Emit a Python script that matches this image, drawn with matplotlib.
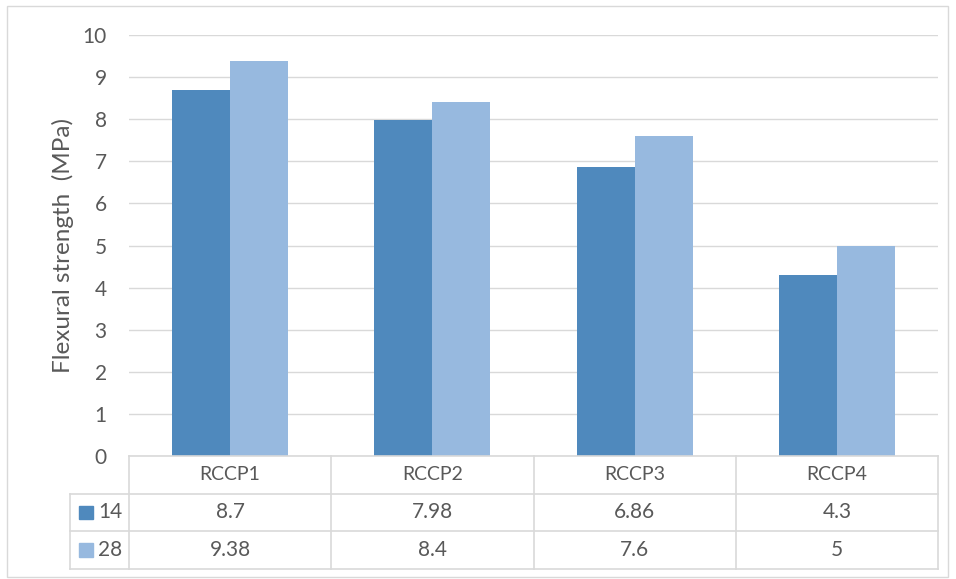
import matplotlib.pyplot as plt
import numpy as np
from matplotlib.patches import Rectangle

# data
categories = ['RCCP1', 'RCCP2', 'RCCP3', 'RCCP4']
series_names = ['14', '28']
vals_14 = [8.7, 7.98, 6.86, 4.3]
vals_28 = [9.38, 8.4, 7.6, 5]
yticks = [0, 1, 2, 3, 4, 5, 6, 7, 8, 9, 10]

colors = ['#4f89bd', '#97b9df']
txt = '#595959'
grid = '#d9d9d9'

plt.rcParams['font.family'] = ['Lato', 'DejaVu Sans']

W, H = 956, 579
fig = plt.figure(figsize=(W / 100, H / 100), dpi=100)

def px(x0, y0, x1, y1):
    return [x0 / W, 1 - y1 / H, (x1 - x0) / W, (y1 - y0) / H]

# outer frame
fig.patches.append(Rectangle((7 / W, 1 - 577 / H), 941 / W, 571 / H, transform=fig.transFigure,
                             fill=False, edgecolor=grid, lw=1))

# main plot
ax = fig.add_axes(px(129, 35, 938, 456))
x = np.arange(len(categories))
bw = 0.287
ax.bar(x - bw / 2, vals_14, bw, color=colors[0], zorder=3)
ax.bar(x + bw / 2, vals_28, bw, color=colors[1], zorder=3)
ax.set_xlim(-0.5, 3.5)
ax.set_ylim(0, 10)
ax.set_yticks(yticks)
ax.set_yticklabels([str(t) for t in yticks], fontsize=15, color=txt)
ax.tick_params(axis='y', length=0, pad=16)
ax.set_xticks([])
ax.yaxis.grid(True, color=grid, lw=1, zorder=0)
for s in ax.spines.values():
    s.set_visible(False)
ax.set_ylabel('Flexural strength  (MPa)', fontsize=17.5, color=txt, labelpad=6)

# data table below the plot
tb = fig.add_axes(px(70, 456, 938, 569))
left = -0.5 - 59 / 202.25
tb.set_xlim(left, 3.5)
tb.set_ylim(3, 0)
tb.axis('off')
lk = dict(color=grid, lw=1.2, clip_on=False)
# horizontal lines
tb.plot([-0.5, 3.5], [0, 0], **lk)
for r in [1, 2, 3]:
    tb.plot([left, 3.5], [r, r], **lk)
# vertical lines
tb.plot([left, left], [1, 3], **lk)
for c in range(5):
    tb.plot([c - 0.5, c - 0.5], [0, 3], **lk)
for i, cat in enumerate(categories):
    tb.text(i, 0.5, cat, ha='center', va='center', fontsize=14, color=txt)
rows = [vals_14, vals_28]
for r, (name, vals) in enumerate(zip(series_names, rows)):
    yc = r + 1.5
    tb.add_patch(Rectangle((left + 9 / 202.25, yc - 0.18), 14 / 202.25, 0.36, color=colors[r],
                           clip_on=False))
    tb.text(left + 28 / 202.25, yc, name, ha='left', va='center', fontsize=15, color=txt)
    for i, v in enumerate(vals):
        tb.text(i, yc, f'{v:g}', ha='center', va='center', fontsize=15, color=txt)

fig.savefig('out.png', dpi=100)
